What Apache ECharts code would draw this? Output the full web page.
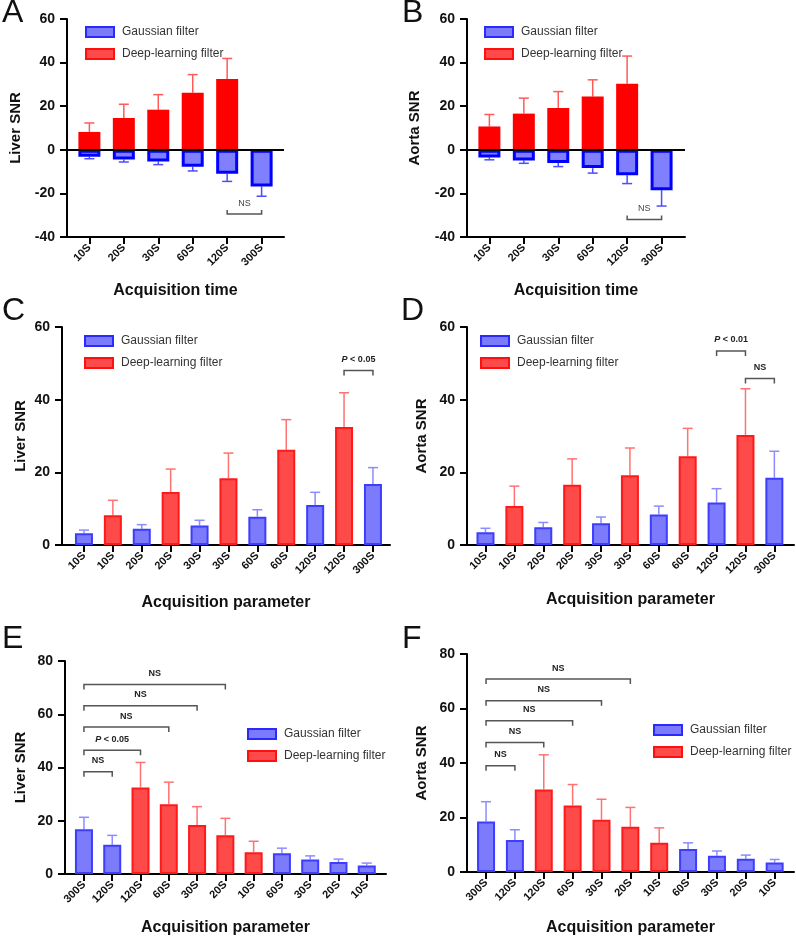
<!DOCTYPE html>
<html>
<head>
<meta charset="utf-8">
<script src="https://cdn.jsdelivr.net/npm/echarts@6/dist/echarts.min.js"></script>
<style>
html,body{margin:0;padding:0;background:#fff;}
#chart{width:796px;height:939px;}
</style>
</head>
<body>
<div id="chart"></div>
<script>
// ---------------- DATA ----------------
const times = ['10S', '20S', '30S', '60S', '120S', '300S'];
const liverGaussian   = [3.2, 4.5, 5.4, 7.8, 11.0, 16.8];
const liverGaussianSD = [0.9, 1.1, 1.4, 1.9, 3.5, 4.5];
const liverDeep       = [8.2, 14.6, 18.4, 26.2, 32.5];
const liverDeepSD     = [4.1, 6.3, 6.9, 8.3, 9.4];
const aortaGaussian   = [3.5, 4.9, 6.0, 8.4, 11.7, 18.5];
const aortaGaussianSD = [1.1, 1.3, 1.7, 2.3, 3.8, 7.3];
const aortaDeep       = [10.7, 16.6, 19.2, 24.4, 30.3];
const aortaDeepSD     = [5.5, 7.1, 7.5, 7.7, 12.7];

// order of bars in panels C/D and E/F (filter, time index)
const seqCFilter = ['G', 'D', 'G', 'D', 'G', 'D', 'G', 'D', 'G', 'D', 'G'];
const seqCTime   = [0, 0, 1, 1, 2, 2, 3, 3, 4, 4, 5];
const seqEFilter = ['G', 'G', 'D', 'D', 'D', 'D', 'D', 'G', 'G', 'G', 'G'];
const seqETime   = [5, 4, 4, 3, 2, 1, 0, 3, 2, 1, 0];

// significance brackets: [from bar index, to bar index, level, label]
const bracketsA = [[4, 5, -29.5, 'NS']];
const bracketsB = [[4, 5, -32, 'NS']];
const bracketsC = [[9, 10, 48, 'P < 0.05']];
const bracketsD = [[8, 9, 53.4, 'P < 0.01'], [9, 10, 45.8, 'NS']];
const bracketsE = [[0, 1, 38.4, 'NS'], [0, 2, 46.5, 'P < 0.05'], [0, 3, 55.2, 'NS'], [0, 4, 63.2, 'NS'], [0, 5, 71.2, 'NS']];
const bracketsF = [[0, 1, 39, 'NS'], [0, 2, 47.5, 'NS'], [0, 3, 55.5, 'NS'], [0, 4, 62.8, 'NS'], [0, 5, 70.8, 'NS']];

// ---------------- STYLE / LAYOUT ----------------
const FONT = 'Liberation Sans, Arial, sans-serif';
const GN = 'Gaussian filter', DN = 'Deep-learning filter';

const panels = [
  {letter: 'A', mode: 'time', tissue: 'liver', yName: 'Liver SNR', xName: 'Acquisition time',
   grid: {left: 67, top: 19, width: 217, height: 218}, xMin: -0.65, xMax: 5.65, yMin: -40, yMax: 60,
   yNameGap: 44, xNameGap: 46, legend: {left: 80, top: 21}, letterPos: {x: 2, y: -3},
   brackets: bracketsA, bracketUp: true, barWidth: 22},
  {letter: 'B', mode: 'time', tissue: 'aorta', yName: 'Aorta SNR', xName: 'Acquisition time',
   grid: {left: 467, top: 19, width: 218, height: 218}, xMin: -0.65, xMax: 5.68, yMin: -40, yMax: 60,
   yNameGap: 45, xNameGap: 46, legend: {left: 479, top: 21}, letterPos: {x: 402, y: -3},
   brackets: bracketsB, bracketUp: true, barWidth: 22},
  {letter: 'C', mode: 'C', tissue: 'liver', yName: 'Liver SNR', xName: 'Acquisition parameter',
   grid: {left: 62, top: 327, width: 328, height: 218}, xMin: -0.76, xMax: 10.59, yMin: 0, yMax: 60,
   yNameGap: 34, xNameGap: 50, legend: {left: 79, top: 330}, letterPos: {x: 2, y: 295},
   brackets: bracketsC, bracketUp: false, barWidth: 18},
  {letter: 'D', mode: 'C', tissue: 'aorta', yName: 'Aorta SNR', xName: 'Acquisition parameter',
   grid: {left: 467, top: 327, width: 327, height: 218}, xMin: -0.64, xMax: 10.68, yMin: 0, yMax: 60,
   yNameGap: 38, xNameGap: 47, legend: {left: 475, top: 330}, letterPos: {x: 401, y: 295},
   brackets: bracketsD, bracketUp: false, barWidth: 18},
  {letter: 'E', mode: 'E', tissue: 'liver', yName: 'Liver SNR', xName: 'Acquisition parameter',
   grid: {left: 65, top: 661, width: 321, height: 213}, xMin: -0.67, xMax: 10.68, yMin: 0, yMax: 80,
   yNameGap: 37, xNameGap: 46, legend: {left: 242, top: 723}, letterPos: {x: 2, y: 623},
   brackets: bracketsE, bracketUp: false, barWidth: 18},
  {letter: 'F', mode: 'E', tissue: 'aorta', yName: 'Aorta SNR', xName: 'Acquisition parameter',
   grid: {left: 467, top: 654, width: 327, height: 218}, xMin: -0.66, xMax: 10.67, yMin: 0, yMax: 80,
   yNameGap: 38, xNameGap: 48, legend: {left: 648, top: 719}, letterPos: {x: 402, y: 623},
   brackets: bracketsF, bracketUp: false, barWidth: 18}
];

const styleA = {
  G: {color: '#8080ff', borderColor: '#0000ff', borderWidth: 3},
  D: {color: '#ff0000', borderWidth: 0},
  errG: '#4d4dff', errD: '#ff5a5a'
};
const styleC = {
  G: {color: '#7b7bfb', borderColor: '#3d3dff', borderWidth: 2},
  D: {color: '#ff4a4a', borderColor: '#ff1a1a', borderWidth: 2},
  errG: '#8c8cff', errD: '#ff7272'
};

function getVals(tissue) {
  return tissue === 'liver'
    ? {G: liverGaussian, GSD: liverGaussianSD, D: liverDeep, DSD: liverDeepSD}
    : {G: aortaGaussian, GSD: aortaGaussianSD, D: aortaDeep, DSD: aortaDeepSD};
}

function errRender(color) {
  return function (params, api) {
    const x = api.value(0), v = api.value(1), sd = api.value(2);
    const sign = v >= 0 ? 1 : -1;
    const p0 = api.coord([x, v]);
    const p1 = api.coord([x, v + sign * sd]);
    const cap = 5;
    const st = {stroke: color, lineWidth: 1.5};
    return {type: 'group', children: [
      {type: 'line', shape: {x1: p0[0], y1: p0[1], x2: p1[0], y2: p1[1]}, style: st},
      {type: 'line', shape: {x1: p1[0] - cap, y1: p1[1], x2: p1[0] + cap, y2: p1[1]}, style: st}
    ]};
  };
}

function bracketRender(list, up, bold) {
  return function (params, api) {
    const b = list[params.dataIndex];
    const a = api.coord([b[0], b[2]]);
    const c = api.coord([b[1], b[2]]);
    const t = up ? -4 : 5;
    const isP = b[3].indexOf('P') === 0;
    const txt = isP ? '{i|P}' + b[3].slice(1) : b[3];
    return {type: 'group', children: [
      {type: 'polyline', shape: {points: [[a[0], a[1] + t], [a[0], a[1]], [c[0], c[1]], [c[0], c[1] + t]]},
       style: {stroke: '#555', lineWidth: 1.5, fill: null}},
      {type: 'text', style: {
        text: txt, x: (a[0] + c[0]) / 2, y: a[1] - 11, align: 'center', verticalAlign: 'middle',
        fontFamily: FONT, fontSize: 9, fontWeight: bold ? 'bold' : 'normal', fill: bold ? '#222' : '#444',
        rich: {i: {fontStyle: 'italic', fontFamily: FONT, fontSize: 9, fontWeight: bold ? 'bold' : 'normal', fill: bold ? '#222' : '#444'}}
      }}
    ]};
  };
}

const option = {
  animation: false,
  backgroundColor: '#fff',
  grid: [], xAxis: [], yAxis: [], series: [], legend: [], graphic: []
};

panels.forEach((p, gi) => {
  const vals = getVals(p.tissue);
  const st = p.mode === 'time' ? styleA : styleC;
  let labels, blue = [], red = [], blueErr = [], redErr = [];
  if (p.mode === 'time') {
    labels = times.slice();
    times.forEach((t, i) => {
      blue.push([i, -vals.G[i]]);
      blueErr.push([i, -vals.G[i], vals.GSD[i]]);
      if (i < vals.D.length) {
        red.push([i, vals.D[i]]);
        redErr.push([i, vals.D[i], vals.DSD[i]]);
      }
    });
  } else {
    const f = p.mode === 'C' ? seqCFilter : seqEFilter;
    const tm = p.mode === 'C' ? seqCTime : seqETime;
    labels = tm.map(t => times[t]);
    f.forEach((kind, k) => {
      const ti = tm[k];
      if (kind === 'G') { blue.push([k, vals.G[ti]]); blueErr.push([k, vals.G[ti], vals.GSD[ti]]); }
      else { red.push([k, vals.D[ti]]); redErr.push([k, vals.D[ti], vals.DSD[ti]]); }
    });
  }
  const idx = labels.map((_, i) => i);

  option.grid.push(Object.assign({}, p.grid, {containLabel: false}));
  option.xAxis.push({
    type: 'value', gridIndex: gi, min: p.xMin, max: p.xMax,
    name: p.xName, nameLocation: 'middle', nameGap: p.xNameGap,
    nameTextStyle: {fontFamily: FONT, fontWeight: 'bold', fontSize: 16, color: '#111'},
    axisLine: {onZero: false, lineStyle: {color: '#000', width: 2}},
    axisTick: {customValues: idx, length: 7, lineStyle: {color: '#000', width: 2}},
    axisLabel: {customValues: idx, formatter: v => labels[Math.round(v)], rotate: 45, margin: 9,
      fontFamily: FONT, fontWeight: 'bold', fontSize: 11, color: '#111'},
    splitLine: {show: false}
  });
  option.yAxis.push({
    type: 'value', gridIndex: gi, min: p.yMin, max: p.yMax, interval: 20,
    name: p.yName, nameLocation: 'middle', nameGap: p.yNameGap,
    nameTextStyle: {fontFamily: FONT, fontWeight: 'bold', fontSize: 15, color: '#111'},
    axisLine: {show: true, onZero: false, lineStyle: {color: '#000', width: 2}},
    axisTick: {show: true, length: 7, lineStyle: {color: '#000', width: 2}},
    axisLabel: {margin: 12, fontFamily: FONT, fontWeight: 'bold', fontSize: 14, color: '#111'},
    splitLine: {show: false}
  });

  const blueSeries = {
    type: 'bar', name: GN, xAxisIndex: gi, yAxisIndex: gi, data: blue,
    barWidth: p.barWidth, barGap: '-100%', itemStyle: st.G, z: 2
  };
  if (p.mode === 'time') {
    blueSeries.markLine = {silent: true, symbol: 'none', label: {show: false},
      lineStyle: {color: '#000', width: 2, type: 'solid'}, data: [{yAxis: 0}], z: 5};
  }
  option.series.push(blueSeries);
  option.series.push({
    type: 'bar', name: DN, xAxisIndex: gi, yAxisIndex: gi, data: red,
    barWidth: p.barWidth, barGap: '-100%', itemStyle: st.D, z: 2
  });
  option.series.push({
    type: 'custom', name: 'errG' + gi, xAxisIndex: gi, yAxisIndex: gi, data: blueErr,
    encode: {x: 0, y: 1}, renderItem: errRender(st.errG), z: 1, silent: true
  });
  option.series.push({
    type: 'custom', name: 'errD' + gi, xAxisIndex: gi, yAxisIndex: gi, data: redErr,
    encode: {x: 0, y: 1}, renderItem: errRender(st.errD), z: 1, silent: true
  });
  option.series.push({
    type: 'custom', name: 'sig' + gi, xAxisIndex: gi, yAxisIndex: gi,
    data: p.brackets.map(b => [b[0], b[2]]),
    encode: {x: 0, y: 1}, renderItem: bracketRender(p.brackets, p.bracketUp, !p.bracketUp), z: 6, silent: true
  });

  option.legend.push({
    left: p.legend.left, top: p.legend.top, orient: 'vertical', itemWidth: 28, itemHeight: 10, itemGap: 10,
    icon: 'rect', selectedMode: false,
    textStyle: {fontFamily: FONT, fontSize: 12, color: '#333', padding: [0, 0, 0, 3]},
    data: [
      {name: GN, itemStyle: {color: '#7b7bfb', borderColor: '#2a2aff', borderWidth: 2}},
      {name: DN, itemStyle: {color: '#ff4a4a', borderColor: '#ff1010', borderWidth: 2}}
    ]
  });

  option.graphic.push({
    type: 'text', left: p.letterPos.x, top: p.letterPos.y,
    style: {text: p.letter, fontFamily: FONT, fontSize: 32, fill: '#111'}
  });
});

const chart = echarts.init(document.getElementById('chart'), null, {renderer: 'canvas'});
chart.setOption(option);
</script>
</body>
</html>
